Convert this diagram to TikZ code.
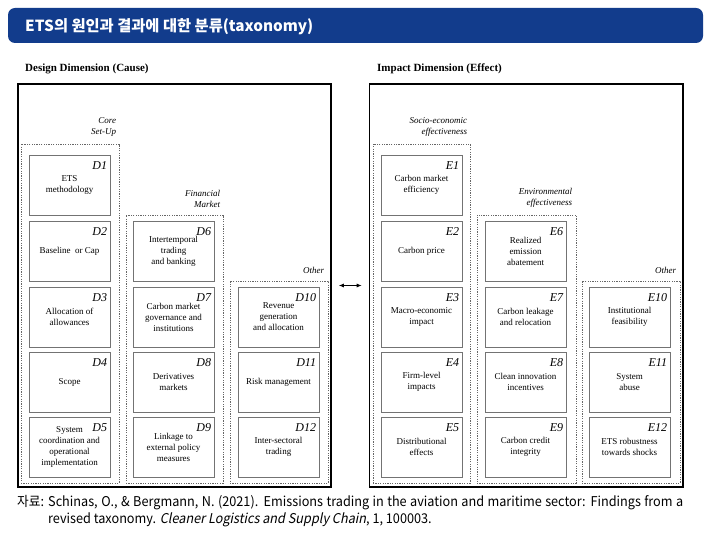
\documentclass[tikz,border=0pt]{standalone}
\usepackage{fontspec}
\setmainfont{Liberation Serif}[BoldFont={Liberation Serif Bold}, ItalicFont={Liberation Serif Italic}, BoldItalicFont={Liberation Serif Bold Italic}]
\newfontfamily\krfont{Noto Sans CJK KR}
\newfontfamily\srcfont{Noto Sans CJK KR}[FakeStretch=0.94, ItalicFont=Noto Sans CJK KR, ItalicFeatures={FakeSlant=0.2}]
\usetikzlibrary{arrows.meta, fit}

\definecolor{titleblue}{HTML}{123C8C}

\tikzset{
    item/.style={draw=black!55, line width=0.6pt, minimum width=81pt, minimum height=60pt,
        inner sep=0pt, align=center, font=\fontsize{9}{11}\selectfont},
    tag/.style={anchor=north east, inner sep=0pt, font=\fontsize{12}{12}\selectfont\itshape},
    group/.style={draw=black!60, dash pattern=on 1.2pt off 1.2pt, line width=0.5pt, inner sep=0pt},
    grouplabel/.style={anchor=south east, align=right, inner sep=0pt,
        font=\fontsize{9}{11}\selectfont\itshape},
    dimension/.style={draw=black, line width=1.6pt, inner sep=0pt},
    heading/.style={anchor=base west, inner sep=0pt, font=\fontsize{11}{13}\selectfont\bfseries},
    source/.style={anchor=base west, inner sep=0pt, font=\srcfont\fontsize{13.5}{17}\selectfont},
}

\begin{document}
\begin{tikzpicture}[x=1pt, y=-1pt]
    \fill [white] (0, 0) rectangle (716, 545);
    \useasboundingbox (0, 0) rectangle (716, 545);

    \node [fill=titleblue, rounded corners=7pt, inner sep=0pt, fit={(8, 8) (703, 43)}] (bar) {};
    \node [anchor=base west, inner sep=0pt, text=white, font=\krfont\fontsize{15.3}{15}\selectfont\bfseries] (title) at (25, 32) {ETS의 원인과 결과에 대한 분류(taxonomy)};

    \node [heading] (designhead) at (25, 72) {Design Dimension (Cause)};
    \node [heading] (impacthead) at (377, 72) {Impact Dimension (Effect)};

    \node [dimension, fit={(18, 84) (331, 487)}] (design) {};
    \node [dimension, fit={(369.5, 84) (683, 487)}] (impact) {};

    \draw [{Latex[length=5pt, width=4pt]}-{Latex[length=5pt, width=4pt]}, line width=0.8pt, shorten <=7pt, shorten >=7pt] (design) to (impact);

    % design side
    \node [group, fit={(21, 144) (119, 483)}] (core) {};
    \node [grouplabel] (corelbl) at ([shift={(-3, -7)}]core.north east) {Core\\Set-Up};
    \node [group, fit={(126, 215) (223, 483)}] (financial) {};
    \node [grouplabel] (financiallbl) at ([shift={(-3, -7)}]financial.north east) {Financial\\Market};
    \node [group, fit={(230, 281) (328, 483)}] (dother) {};
    \node [grouplabel] (dotherlbl) at ([shift={(-4, -7)}]dother.north east) {Other};

    \node [item] (d1) at (69.5, 185) {ETS\\methodology};
    \node [item] (d2) at (69.5, 251) {Baseline\ \ or Cap};
    \node [item] (d3) at (69.5, 317) {Allocation of\\allowances};
    \node [item] (d4) at (69.5, 382) {Scope};
    \node [item] (d5) at (69.5, 447) {System\\coordination and\\operational\\implementation};
    \node [item] (d6) at (173.5, 251) {Intertemporal\\trading\\and banking};
    \node [item] (d7) at (173.5, 317) {Carbon market\\governance and\\institutions};
    \node [item] (d8) at (173.5, 382) {Derivatives\\markets};
    \node [item] (d9) at (173.5, 447) {Linkage to\\external policy\\measures};
    \node [item] (d10) at (278.5, 317) {Revenue\\generation\\and allocation};
    \node [item] (d11) at (278.5, 382) {Risk management};
    \node [item] (d12) at (278.5, 447) {Inter-sectoral\\trading};

    \node [tag] (d1tag) at ([shift={(-3, 7)}]d1.north east) {D1};
    \node [tag] (d2tag) at ([shift={(-3, 7)}]d2.north east) {D2};
    \node [tag] (d3tag) at ([shift={(-3, 7)}]d3.north east) {D3};
    \node [tag] (d4tag) at ([shift={(-3, 7)}]d4.north east) {D4};
    \node [tag] (d5tag) at ([shift={(-3, 7)}]d5.north east) {D5};
    \node [tag] (d6tag) at ([shift={(-3, 7)}]d6.north east) {D6};
    \node [tag] (d7tag) at ([shift={(-3, 7)}]d7.north east) {D7};
    \node [tag] (d8tag) at ([shift={(-3, 7)}]d8.north east) {D8};
    \node [tag] (d9tag) at ([shift={(-3, 7)}]d9.north east) {D9};
    \node [tag] (d10tag) at ([shift={(-3, 7)}]d10.north east) {D10};
    \node [tag] (d11tag) at ([shift={(-3, 7)}]d11.north east) {D11};
    \node [tag] (d12tag) at ([shift={(-3, 7)}]d12.north east) {D12};

    % impact side
    \node [group, fit={(373, 144) (470, 483)}] (socio) {};
    \node [grouplabel] (sociolbl) at ([shift={(-3, -7)}]socio.north east) {Socio-economic\\effectiveness};
    \node [group, fit={(477, 215) (576, 483)}] (environ) {};
    \node [grouplabel] (environlbl) at ([shift={(-4, -7)}]environ.north east) {Environmental\\effectiveness};
    \node [group, fit={(582, 281) (680, 483)}] (eother) {};
    \node [grouplabel] (eotherlbl) at ([shift={(-4, -7)}]eother.north east) {Other};

    \node [item] (e1) at (421.5, 185) {Carbon market\\efficiency};
    \node [item] (e2) at (421.5, 251) {Carbon price};
    \node [item] (e3) at (421.5, 317) {Macro-economic\\impact};
    \node [item] (e4) at (421.5, 382) {Firm-level\\impacts};
    \node [item] (e5) at (421.5, 447) {Distributional\\effects};
    \node [item] (e6) at (525.5, 251) {Realized\\emission\\abatement};
    \node [item] (e7) at (525.5, 317) {Carbon leakage\\and relocation};
    \node [item] (e8) at (525.5, 382) {Clean innovation\\incentives};
    \node [item] (e9) at (525.5, 447) {Carbon credit\\integrity};
    \node [item] (e10) at (629.5, 317) {Institutional\\feasibility};
    \node [item] (e11) at (629.5, 382) {System\\abuse};
    \node [item] (e12) at (629.5, 447) {ETS robustness\\towards shocks};

    \node [tag] (e1tag) at ([shift={(-3, 7)}]e1.north east) {E1};
    \node [tag] (e2tag) at ([shift={(-3, 7)}]e2.north east) {E2};
    \node [tag] (e3tag) at ([shift={(-3, 7)}]e3.north east) {E3};
    \node [tag] (e4tag) at ([shift={(-3, 7)}]e4.north east) {E4};
    \node [tag] (e5tag) at ([shift={(-3, 7)}]e5.north east) {E5};
    \node [tag] (e6tag) at ([shift={(-3, 7)}]e6.north east) {E6};
    \node [tag] (e7tag) at ([shift={(-3, 7)}]e7.north east) {E7};
    \node [tag] (e8tag) at ([shift={(-3, 7)}]e8.north east) {E8};
    \node [tag] (e9tag) at ([shift={(-3, 7)}]e9.north east) {E9};
    \node [tag] (e10tag) at ([shift={(-3, 7)}]e10.north east) {E10};
    \node [tag] (e11tag) at ([shift={(-3, 7)}]e11.north east) {E11};
    \node [tag] (e12tag) at ([shift={(-3, 7)}]e12.north east) {E12};

    \node [source] (source) at (17, 507) {\makebox[666pt][s]{\makebox[31pt][l]{자료:}Schinas, O., \& Bergmann, N. (2021). Emissions trading in the aviation and maritime sector: Findings from a}};
    \node [source] (source2) at (48, 524) {revised taxonomy. \textit{Cleaner Logistics and Supply Chain}, 1, 100003.};

  \end{tikzpicture}
\end{document}
